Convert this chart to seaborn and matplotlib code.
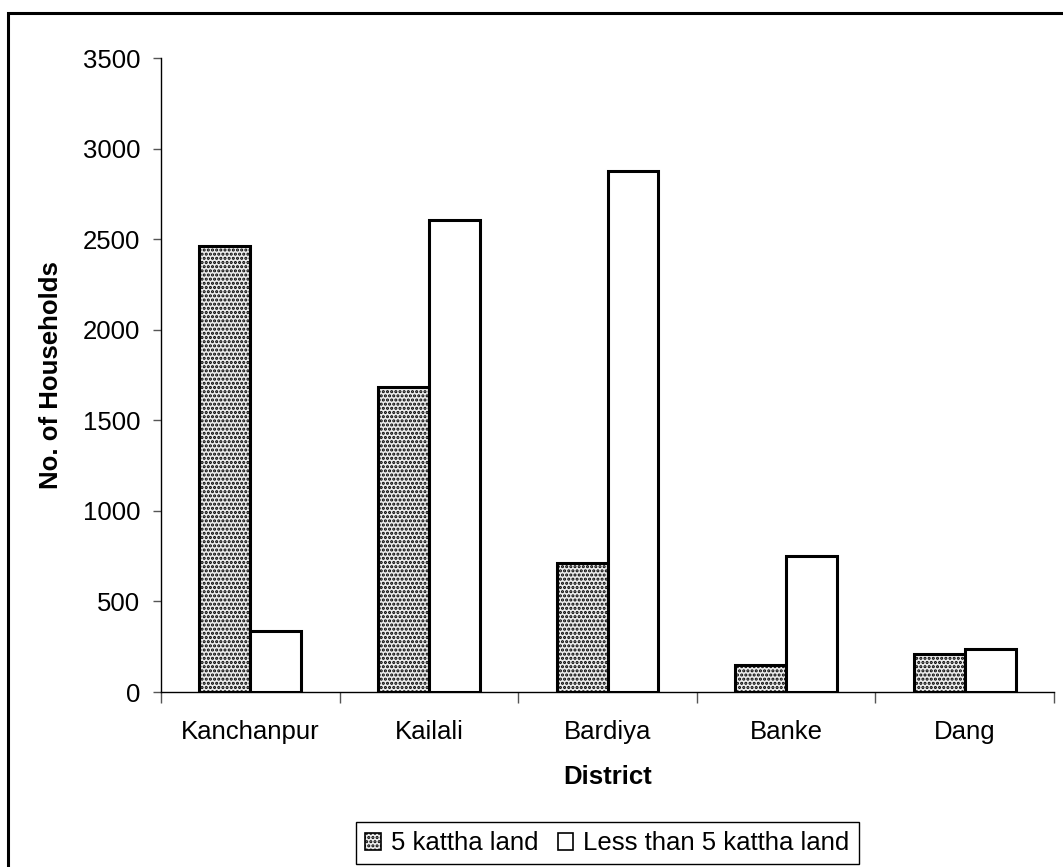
import matplotlib
matplotlib.use("Agg")
import matplotlib.pyplot as plt
from matplotlib.patches import Patch, Rectangle
import seaborn as sns
import pandas as pd

# Households by district and landholding size
districts = ["Kanchanpur", "Kailali", "Bardiya", "Banke", "Dang"]
five_kattha = [2460, 1685, 710, 150, 210]
less_than_five = [335, 2605, 2875, 750, 237]
series_names = ["5 kattha land", "Less than 5 kattha land"]
y_ticks = [0, 500, 1000, 1500, 2000, 2500, 3000, 3500]

df = pd.DataFrame({
    "District": districts * 2,
    "Households": five_kattha + less_than_five,
    "Land": [series_names[0]] * len(districts) + [series_names[1]] * len(districts),
})

sns.set_style("white")
plt.rcParams["font.family"] = ["Liberation Sans", "DejaVu Sans"]
plt.rcParams["text.color"] = "black"
plt.rcParams["axes.labelcolor"] = "black"
plt.rcParams["xtick.labelcolor"] = "black"
plt.rcParams["ytick.labelcolor"] = "black"
plt.rcParams["hatch.color"] = "#858585"
plt.rcParams["hatch.linewidth"] = 1.5

fig = plt.figure(figsize=(10.63, 8.67), dpi=100)
ax = fig.add_axes([0.1515, 0.2018, 0.84, 0.7313])

fill_colors = {series_names[0]: "#ececec", series_names[1]: "white"}
sns.barplot(data=df, x="District", y="Households", hue="Land",
            order=districts, hue_order=series_names, palette=fill_colors,
            width=0.57, gap=0, edgecolor="black", linewidth=2.2,
            saturation=1, legend=False, ax=ax)

for bar in ax.containers[0]:
    bar.set_hatch("....")

ax.set_ylim(0, 3500)
ax.set_xlim(-0.5, len(districts) - 0.5)
ax.set_yticks(y_ticks)
ax.tick_params(axis="y", direction="out", length=6, width=1, color="#555555",
               labelsize=18.5, pad=9, left=True)
ax.tick_params(axis="x", which="major", length=0, labelsize=18.5, pad=20)
ax.set_xticks([i - 0.5 for i in range(len(districts) + 1)], minor=True)
ax.tick_params(axis="x", which="minor", direction="out", length=8, width=1,
               color="#555555", bottom=True)

for side in ["top", "right"]:
    ax.spines[side].set_visible(False)
for side in ["left", "bottom"]:
    ax.spines[side].set_color("black")
    ax.spines[side].set_linewidth(1.0)

ax.set_xlabel("District", fontsize=18.5, fontweight="bold")
ax.set_ylabel("No. of Households", fontsize=18.5, fontweight="bold")
ax.xaxis.set_label_coords(0.5, -0.115)
ax.yaxis.set_label_coords(-0.11, 0.5)

handles = [
    Patch(facecolor=fill_colors[series_names[0]], edgecolor="black",
          hatch="....", linewidth=1.2, label=series_names[0]),
    Patch(facecolor="white", edgecolor="black", linewidth=1.2,
          label=series_names[1]),
]
fig.legend(handles=handles, loc="lower center", bbox_to_anchor=(0.5715, 0.003),
           ncol=2, fontsize=18.5, frameon=True, fancybox=False,
           edgecolor="black", framealpha=1, borderpad=0.35,
           handlelength=0.6, handleheight=0.6, handletextpad=0.4,
           columnspacing=0.75, borderaxespad=0)
fig.legends[0].get_frame().set_linewidth(1.0)

# Outer chart frame, running off the right and bottom edges
fig.patches.append(Rectangle((8 / 1063, -0.02), 1.05, 1 - 13 / 867 + 0.02,
                             transform=fig.transFigure, fill=False,
                             edgecolor="black", linewidth=2.2))

fig.savefig("out.png", dpi=100)
